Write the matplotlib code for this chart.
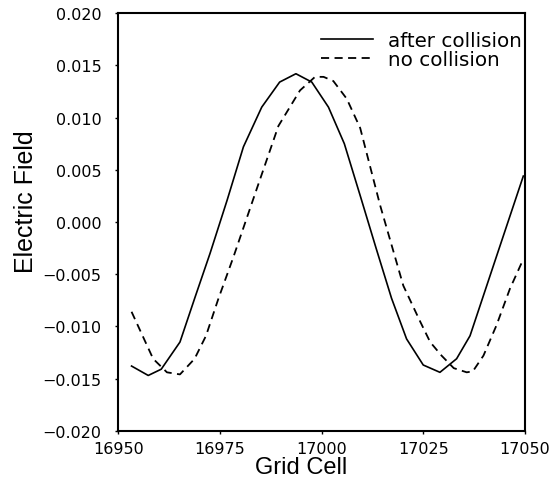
import matplotlib
matplotlib.use('Agg')
import matplotlib.pyplot as plt
from matplotlib.ticker import FixedLocator, FuncFormatter

# Values
after_x = [16953.3, 16957.4, 16960.6, 16965.2, 16969.0, 16972.6, 16976.8, 16980.8,
           16985.3, 16989.7, 16993.7, 16997.6, 17001.7, 17005.6, 17009.6, 17013.4,
           17017.2, 17020.9, 17025.0, 17029.1, 17033.2, 17036.5, 17043.0, 17049.6]
after_y = [-0.0138, -0.0147, -0.0141, -0.0115, -0.0071, -0.0030, 0.0021, 0.0072,
           0.0110, 0.0134, 0.0142, 0.0134, 0.0110, 0.0075, 0.0024, -0.0025,
           -0.0073, -0.0112, -0.0137, -0.0144, -0.0131, -0.0109, -0.0033, 0.0044]

nocoll_x = [16953.3, 16958.6, 16962.0, 16965.2, 16968.8, 16971.6, 16974.6, 16978.3,
            16984.1, 16989.4, 16994.7, 16998.4, 17000.5, 17002.9, 17006.2, 17009.5,
            17014.4, 17020.1, 17024.2, 17026.7, 17029.5, 17032.5, 17035.7, 17037.2,
            17039.8, 17043.0, 17046.3, 17049.2]
nocoll_y = [-0.0086, -0.0131, -0.0144, -0.0146, -0.0131, -0.0109, -0.0074, -0.0034,
            0.0032, 0.0092, 0.0126, 0.0139, 0.0139, 0.0135, 0.0118, 0.0090,
            0.0016, -0.0061, -0.0095, -0.0115, -0.0128, -0.0140, -0.0144, -0.0143,
            -0.0128, -0.0099, -0.0064, -0.0039]

x_ticks = [16950, 16975, 17000, 17025, 17050]
y_ticks = [-0.020, -0.015, -0.010, -0.005, 0.000, 0.005, 0.010, 0.015, 0.020]

fig = plt.figure(figsize=(5.52, 4.89), dpi=100)
ax = fig.add_axes([0.214, 0.117, 0.737, 0.854])

ax.plot(after_x, after_y, color='black', linewidth=1.2, label='after collision')
ax.plot(nocoll_x, nocoll_y, color='black', linewidth=1.3, linestyle=(0, (4.5, 3)),
        label='no collision')

ax.set_xlim(16950, 17050)
ax.set_ylim(-0.020, 0.020)
ax.xaxis.set_major_locator(FixedLocator(x_ticks))
ax.yaxis.set_major_locator(FixedLocator(y_ticks))
ax.yaxis.set_major_formatter(FuncFormatter(lambda v, p: f'{v:.3f}'.replace('-', '\u2212')))
ax.tick_params(direction='out', length=2.5, width=1, labelsize=11.5)
ax.tick_params(axis='x', pad=4.5)
ax.tick_params(axis='y', pad=9.5)

for s in ax.spines.values():
    s.set_linewidth(1.5)

# axis titles sit a bit off-centre in the original
ax.set_xlabel('Grid Cell', fontsize=17, family='Liberation Sans')
ax.xaxis.set_label_coords(0.45, -0.06)
ax.set_ylabel('Electric Field', fontsize=18, family='Liberation Sans')
ax.yaxis.set_label_coords(-0.197, 0.551)

leg = ax.legend(loc='upper right', bbox_to_anchor=(0.993, 0.958), frameon=False,
                fontsize=14.3, handlelength=2.66, borderaxespad=0, borderpad=0,
                labelspacing=0.0, handletextpad=0.75)

fig.savefig('out.png', dpi=100)
